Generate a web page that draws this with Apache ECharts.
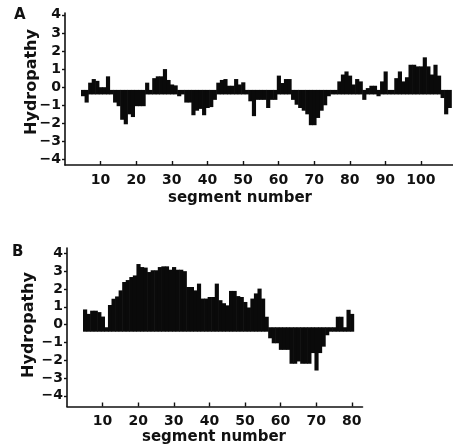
<!DOCTYPE html>
<html>
<head>
<meta charset="utf-8">
<script src="https://cdn.jsdelivr.net/npm/echarts@6/dist/echarts.min.js"></script>
<style>
html,body{margin:0;padding:0;background:#fff;}
#chart{width:453px;height:448px;}
</style>
</head>
<body>
<div id="chart"></div>
<script>
// Panel A: hydropathy per segment, first segment = 5
const segStartA = 5;
const hydropathyA = [
  -0.5, -0.85, 0.25, 0.45, 0.35, 0.0, 0.0, 0.6, -0.2, -0.85,
  -1.05, -1.8, -2.05, -1.5, -1.65, -1.05, -1.05, -1.05, 0.25, -0.2,
  0.5, 0.6, 0.6, 1.0, 0.4, 0.15, 0.1, -0.5, -0.2, -0.85,
  -0.85, -1.55, -1.3, -1.2, -1.55, -1.15, -1.1, -0.7, 0.25, 0.4,
  0.45, 0.08, 0.08, 0.45, 0.15, 0.27, -0.3, -0.78, -1.6, -0.7,
  -0.7, -0.7, -1.15, -0.7, -0.7, 0.64, 0.23, 0.45, 0.45, -0.7,
  -0.97, -1.15, -1.3, -1.5, -2.1, -2.1, -1.7, -1.3, -1.0, -0.5,
  -0.25, -0.25, 0.32, 0.7, 0.87, 0.64, 0.15, 0.45, 0.32, -0.7,
  -0.05, 0.08, 0.08, -0.5, 0.32, 0.87, -0.2, -0.2, 0.5, 0.87,
  0.32, 0.55, 1.24, 1.24, 1.15, 1.15, 1.65, 1.15, 0.7, 1.24,
  0.64, -0.6, -1.5, -1.15
];
// Panel B: hydropathy per segment, first segment = 5
const segStartB = 5;
const hydropathyB = [
  0.85, 0.6, 0.78, 0.78, 0.7, 0.45, -0.15, 1.1, 1.45, 1.58,
  1.92, 2.39, 2.5, 2.67, 2.76, 3.4, 3.23, 3.2, 2.95, 3.05,
  3.05, 3.23, 3.27, 3.27, 3.08, 3.23, 3.08, 3.08, 3.0, 2.11,
  2.11, 1.92, 2.3, 1.46, 1.46, 1.55, 1.55, 2.3, 1.37, 1.2,
  1.08, 1.89, 1.89, 1.6, 1.55, 1.27, 0.96, 1.46, 1.75, 2.02,
  1.46, 0.44, -0.77, -1.05, -1.05, -1.42, -1.42, -1.42, -2.2, -2.2,
  -2.07, -2.2, -2.2, -2.2, -1.6, -2.58, -1.6, -1.24, -0.6, -0.3,
  -0.3, 0.44, 0.44, -0.2, 0.83, 0.6
];
const xTicksA = [10, 20, 30, 40, 50, 60, 70, 80, 90, 100];
const xTicksB = [10, 20, 30, 40, 50, 60, 70, 80];
const yTicks = [-4, -3, -2, -1, 0, 1, 2, 3, 4];
// baseline band of the plot (bars always cover this range)
const bandLow = -0.4, bandHigh = -0.15;

const dataA = hydropathyA.map((v, i) => [segStartA + i, v]);
const dataB = hydropathyB.map((v, i) => [segStartB + i, v]);

const FONT = 'DejaVu Sans';
const tickFont = {fontFamily: FONT, fontWeight: 'bold', fontSize: 14, color: '#111'};

function renderBar(params, api) {
  const x = api.value(0), v = api.value(1);
  const top = Math.max(v, bandHigh), bot = Math.min(v, bandLow);
  const p1 = api.coord([x - 0.5, top]);
  const p2 = api.coord([x + 0.5, bot]);
  return {
    type: 'rect',
    shape: {x: p1[0], y: p1[1], width: p2[0] - p1[0] + 0.6, height: p2[1] - p1[1]},
    style: {fill: '#0a0a0a'}
  };
}

function xAxisDef(gridIndex, max, ticks) {
  return {
    type: 'value', gridIndex, min: 0, max,
    axisLine: {show: true, onZero: false, lineStyle: {color: '#111', width: 1.6}},
    axisTick: {show: true, inside: true, length: 4, customValues: ticks, lineStyle: {color: '#111', width: 1.4}},
    axisLabel: Object.assign({show: true, margin: 8, customValues: ticks}, tickFont),
    splitLine: {show: false}
  };
}
function yAxisDef(gridIndex, min, max) {
  return {
    type: 'value', gridIndex, min, max,
    axisLine: {show: true, onZero: false, lineStyle: {color: '#111', width: 1.6}},
    axisTick: {show: true, inside: false, length: 3, customValues: yTicks, lineStyle: {color: '#111', width: 1.4}},
    axisLabel: Object.assign({show: true, margin: 4, customValues: yTicks,
      formatter: v => (v < 0 ? '\u2212' + Math.abs(v) : String(v))}, tickFont),
    splitLine: {show: false}
  };
}

const chart = echarts.init(document.getElementById('chart'), null, {renderer: 'canvas'});
chart.setOption({
  backgroundColor: '#ffffff',
  animation: false,
  grid: [
    {left: 65, top: 13, width: 389, height: 152},
    {left: 67, top: 248, width: 295.5, height: 158.5}
  ],
  xAxis: [xAxisDef(0, 109, xTicksA), xAxisDef(1, 83, xTicksB)],
  yAxis: [yAxisDef(0, -4.3, 4.1), yAxisDef(1, -4.6, 4.3)],
  series: [
    {type: 'custom', xAxisIndex: 0, yAxisIndex: 0, data: dataA, encode: {x: 0, y: 1}, renderItem: renderBar},
    {type: 'custom', xAxisIndex: 1, yAxisIndex: 1, data: dataB, encode: {x: 0, y: 1}, renderItem: renderBar}
  ],
  graphic: [
    {type: 'text', left: 14, top: 8, style: {text: 'A', font: 'bold 15px "DejaVu Sans"', fill: '#111'}},
    {type: 'text', left: 12, top: 245, style: {text: 'B', font: 'bold 15px "DejaVu Sans"', fill: '#111'}},
    {type: 'text', x: 32, y: 82, rotation: Math.PI / 2,
      style: {text: 'Hydropathy', font: 'bold 16px "DejaVu Sans"', fill: '#111', align: 'center', verticalAlign: 'middle'}},
    {type: 'text', x: 29, y: 325, rotation: Math.PI / 2,
      style: {text: 'Hydropathy', font: 'bold 16px "DejaVu Sans"', fill: '#111', align: 'center', verticalAlign: 'middle'}},
    {type: 'text', x: 240, y: 198,
      style: {text: 'segment number', font: 'bold 15px "DejaVu Sans"', fill: '#111', align: 'center', verticalAlign: 'middle'}},
    {type: 'text', x: 214, y: 437,
      style: {text: 'segment number', font: 'bold 15px "DejaVu Sans"', fill: '#111', align: 'center', verticalAlign: 'middle'}}
  ]
});
</script>
</body>
</html>
